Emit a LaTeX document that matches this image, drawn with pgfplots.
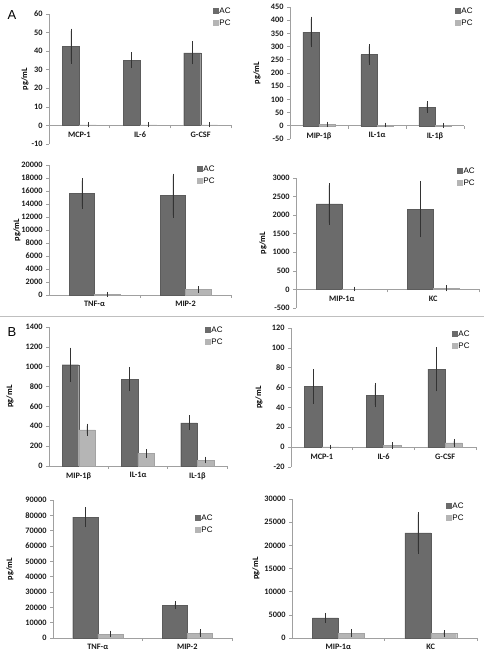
\documentclass[border=0pt]{standalone}
\usepackage{pgfplots}
\pgfplotsset{compat=1.18}
\usepackage{fontspec}
\setmainfont{Liberation Sans}
\newfontfamily\carl{Carlito}
\definecolor{acg}{HTML}{6B6B6B}
\definecolor{pcg}{HTML}{B5B5B5}
\definecolor{axg}{HTML}{A0A0A0}
\pgfplotsset{
 panel/.style={
   scale only axis, anchor=south west,
   ybar=0pt, bar width=0.28,
   axis x line=middle, axis y line=left,
   hide obscured x ticks=false, hide obscured y ticks=false,
   axis line style={-, draw=axg, line width=0.6pt},
   every tick/.style={draw=axg, line width=0.6pt},
   tick align=outside,
   major tick length=3pt, minor tick length=3pt,
   major x tick style={draw=none},
   ticklabel style={font=\carl\bfseries\fontsize{8.3}{9}\selectfont, text=black!90},
   /pgf/number format/assume math mode=true,
   /pgf/number format/1000 sep={},
   scaled y ticks=false,
   ylabel={pg/mL},
   ylabel style={font=\carl\bfseries\fontsize{8.3}{9}\selectfont, at={(axis description cs:0,0.5)}, anchor=center, rotate=0},
   legend cell align=left,
   legend style={draw=none, fill=none, anchor=north west, inner sep=0pt, row sep=4pt,
     font=\fontsize{8}{9}\selectfont,
     nodes={inner sep=1pt, text height=6pt, text depth=0.5pt}},
   clip=false,
 },
 acbar/.style={fill=acg, draw=acg!85!black, line width=0.3pt,
   error bars/y dir=both, error bars/y explicit,
   error bars/error bar style={black!80, line width=0.4pt},
   error bars/error mark options={black!80, mark size=2.2pt, line width=0.4pt},
   legend image code/.code={\fill[acg] (0pt,-2.5pt) rectangle (5pt,2.5pt);}},
 pcbar/.style={fill=pcg, draw=pcg!90!black, line width=0.3pt,
   error bars/y dir=both, error bars/y explicit,
   error bars/error bar style={black!80, line width=0.4pt},
   error bars/error mark options={black!80, mark size=2.2pt, line width=0.4pt},
   legend image code/.code={\fill[pcg] (0pt,-2.5pt) rectangle (5pt,2.5pt);}},
}
\begin{document}
\begin{tikzpicture}
\useasboundingbox (0pt,0pt) rectangle (484pt,661pt);
% A1
\begin{axis}[panel, at={(49pt,517pt)}, width=182pt, height=130pt,
  xmin=0.5, xmax=3.5, ymin=-10, ymax=60, ytick={-10,0,...,60},
  xtick={1,2,3}, xticklabels={MCP-1,IL-6,G-CSF}, minor xtick={1.5,2.5,3.5},
  ylabel style={yshift=24pt},
  legend style={at={(0.901,1.062)}}]
\addplot[acbar] coordinates {(1,42.7) +- (0,8.2) (2,35.1) +- (0,3.1) (3,39.1) +- (0,5.0)};
\addplot[pcbar] coordinates {(1,0.3) +- (0,0.1) (2,0.3) +- (0,0.1) (3,0.3) +- (0,0.1)};
\legend{AC,PC}
\end{axis}
% A2
\begin{axis}[panel, at={(290pt,522pt)}, width=174pt, height=132pt,
  xmin=0.5, xmax=3.5, ymin=-50, ymax=450, ytick={-50,0,...,450},
  xtick={1,2,3}, xticklabels={MIP-1β,IL-1α,IL-1β}, minor xtick={1.5,2.5,3.5},
  ylabel style={yshift=33pt},
  legend style={at={(0.948,1.008)}}]
\addplot[acbar] coordinates {(1,355) +- (0,50) (2,270) +- (0,31) (3,71) +- (0,13)};
\addplot[pcbar] coordinates {(1,5) +- (0,2) (2,3) +- (0,1) (3,2) +- (0,1)};
\legend{AC,PC}
\end{axis}
% A3
\begin{axis}[panel, at={(49pt,366pt)}, width=182pt, height=130pt,
  xmin=0.5, xmax=2.5, ymin=0, ymax=20000, ytick={0,2000,...,20000},
  xtick={1,2}, xticklabels={TNF-α,MIP-2}, minor xtick={1.5,2.5},
  ylabel style={yshift=32pt},
  legend style={at={(0.813,1.008)}}]
\addplot[acbar] coordinates {(1,15600) +- (0,2000) (2,15300) +- (0,3050)};
\addplot[pcbar] coordinates {(1,100) +- (0,60) (2,870) +- (0,150)};
\legend{AC,PC}
\end{axis}
% A4
\begin{axis}[panel, at={(296pt,353pt)}, width=183pt, height=130pt,
  xmin=0.5, xmax=2.5, ymin=-500, ymax=3000, ytick={-500,0,...,3000},
  xtick={1,2}, xticklabels={MIP-1α,KC}, minor xtick={1.5,2.5},
  ylabel style={yshift=33pt},
  legend style={at={(0.880,1.092)}}]
\addplot[acbar] coordinates {(1,2300) +- (0,500) (2,2160) +- (0,700)};
\addplot[pcbar] coordinates {(1,10) +- (0,5) (2,30) +- (0,25)};
\legend{AC,PC}
\end{axis}
% separator
\draw[color=black!25, line width=0.8pt] (0pt,345pt) -- (484pt,345pt);
\node[font=\fontsize{13}{13}\selectfont] at (12pt,646pt) {A};
\node[font=\fontsize{13}{13}\selectfont] at (12pt,329pt) {B};
% B1
\begin{axis}[panel, at={(49pt,195pt)}, width=178pt, height=139pt,
  xmin=0.5, xmax=3.5, ymin=0, ymax=1400, ytick={0,200,...,1400},
  xtick={1,2,3}, xticklabels={MIP-1β,IL-1α,IL-1β}, minor xtick={1.5,2.5,3.5},
  ylabel style={yshift=39pt},
  legend style={at={(0.876,1.014)}}]
\addplot[acbar] coordinates {(1,1020) +- (0,150) (2,875) +- (0,100) (3,435) +- (0,52)};
\addplot[pcbar] coordinates {(1,365) +- (0,40) (2,127) +- (0,20) (3,60) +- (0,12)};
\legend{AC,PC}
\end{axis}
% B2
\begin{axis}[panel, at={(291pt,194pt)}, width=185pt, height=139pt,
  xmin=0.5, xmax=3.5, ymin=-20, ymax=120, ytick={-20,0,...,120},
  xtick={1,2,3}, xticklabels={MCP-1,IL-6,G-CSF}, minor xtick={1.5,2.5,3.5},
  ylabel style={yshift=32pt},
  legend style={at={(0.870,0.993)}}]
\addplot[acbar] coordinates {(1,61) +- (0,15) (2,52.5) +- (0,10) (3,78.5) +- (0,20)};
\addplot[pcbar] coordinates {(1,0.3) +- (0,0.1) (2,1.5) +- (0,1) (3,4.2) +- (0,2)};
\legend{AC,PC}
\end{axis}
% B3
\begin{axis}[panel, at={(53pt,23pt)}, width=179pt, height=138pt,
  xmin=0.5, xmax=2.5, ymin=0, ymax=90000, ytick={0,10000,...,90000},
  xtick={1,2}, xticklabels={TNF-α,MIP-2}, minor xtick={1.5,2.5},
  ylabel style={yshift=43pt},
  legend style={at={(0.793,0.906)}}]
\addplot[acbar] coordinates {(1,78800) +- (0,5000) (2,21500) +- (0,1000)};
\addplot[pcbar] coordinates {(1,2600) +- (0,700) (2,3200) +- (0,1000)};
\legend{AC,PC}
\end{axis}
% B4
\begin{axis}[panel, at={(292pt,23pt)}, width=185pt, height=139pt,
  xmin=0.5, xmax=2.5, ymin=0, ymax=30000, ytick={0,5000,...,30000},
  xtick={1,2}, xticklabels={MIP-1α,KC}, minor xtick={1.5,2.5},
  ylabel style={yshift=36pt},
  legend style={at={(0.832,0.986)}}]
\addplot[acbar] coordinates {(1,4350) +- (0,600) (2,22700) +- (0,4000)};
\addplot[pcbar] coordinates {(1,1000) +- (0,400) (2,950) +- (0,300)};
\legend{AC,PC}
\end{axis}
\end{tikzpicture}
\end{document}
